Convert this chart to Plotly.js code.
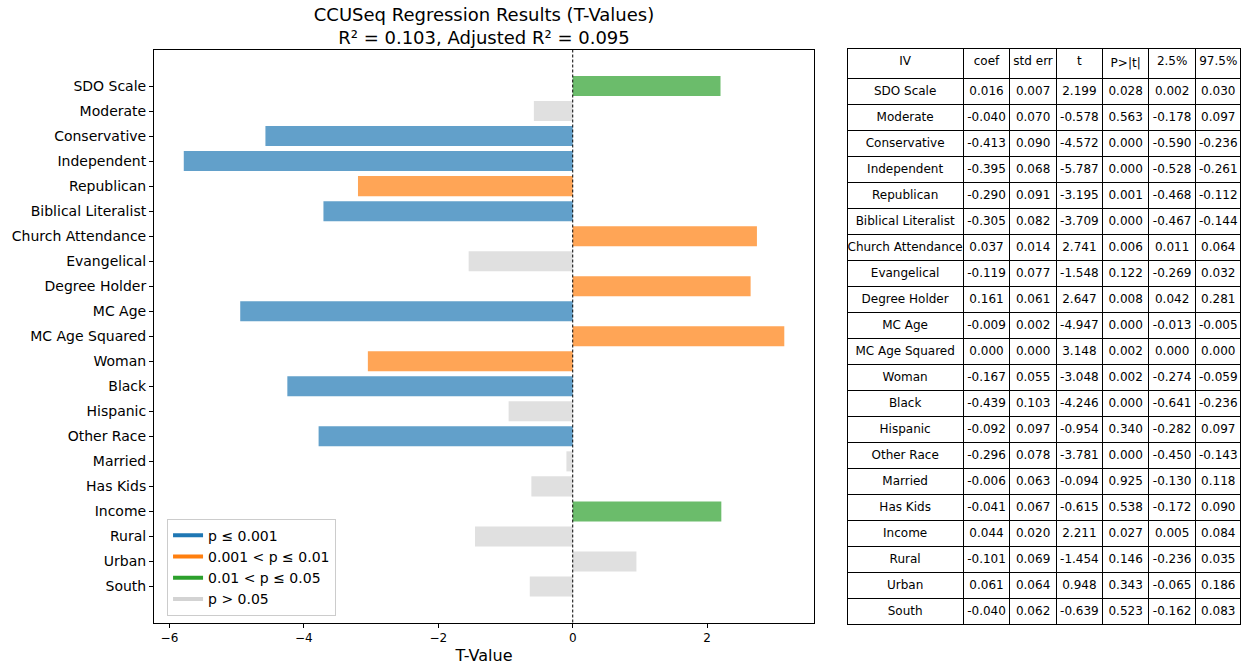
<!DOCTYPE html>
<html>
<head>
<meta charset="utf-8">
<script src="https://cdn.plot.ly/plotly-3.0.1.min.js"></script>
<style>html,body{margin:0;padding:0;background:#fff;}#chart{width:1245px;height:665px;}</style>
</head>
<body>
<div id="chart"></div>
<script>
// ---- data ----
const variables = ["SDO Scale","Moderate","Conservative","Independent","Republican","Biblical Literalist","Church Attendance","Evangelical","Degree Holder","MC Age","MC Age Squared","Woman","Black","Hispanic","Other Race","Married","Has Kids","Income","Rural","Urban","South"];
const coef   = [0.016,-0.040,-0.413,-0.395,-0.290,-0.305,0.037,-0.119,0.161,-0.009,0.000,-0.167,-0.439,-0.092,-0.296,-0.006,-0.041,0.044,-0.101,0.061,-0.040];
const stdErr = [0.007,0.070,0.090,0.068,0.091,0.082,0.014,0.077,0.061,0.002,0.000,0.055,0.103,0.097,0.078,0.063,0.067,0.020,0.069,0.064,0.062];
const tVals  = [2.199,-0.578,-4.572,-5.787,-3.195,-3.709,2.741,-1.548,2.647,-4.947,3.148,-3.048,-4.246,-0.954,-3.781,-0.094,-0.615,2.211,-1.454,0.948,-0.639];
const pVals  = [0.028,0.563,0.000,0.000,0.001,0.000,0.006,0.122,0.008,0.000,0.002,0.002,0.000,0.340,0.000,0.925,0.538,0.027,0.146,0.343,0.523];
const ciLow  = [0.002,-0.178,-0.590,-0.528,-0.468,-0.467,0.011,-0.269,0.042,-0.013,0.000,-0.274,-0.641,-0.282,-0.450,-0.130,-0.172,0.005,-0.236,-0.065,-0.162];
const ciHigh = [0.030,0.097,-0.236,-0.261,-0.112,-0.144,0.064,0.032,0.281,-0.005,0.000,-0.059,-0.236,0.097,-0.143,0.118,0.090,0.084,0.035,0.186,0.083];
// significance group: 0 = p<=0.001, 1 = 0.001<p<=0.01, 2 = 0.01<p<=0.05, 3 = p>0.05
const sigGroup = [2,3,0,0,1,0,1,3,1,0,1,1,0,3,0,3,3,2,3,3,3];
const groupLabels = ["p ≤ 0.001","0.001 < p ≤ 0.01","0.01 < p ≤ 0.05","p > 0.05"];
const tableHeader = ["IV","coef","std err","t","P>|t|","2.5%","97.5%"];

// ---- styles ----
const fullColors = ["#1f77b4","#ff7f0e","#2ca02c","#d3d3d3"];
const barColors  = ["rgba(31,119,180,0.7)","rgba(255,127,14,0.7)","rgba(44,160,44,0.7)","rgba(211,211,211,0.7)"];
const FONT = "DejaVu Sans, sans-serif";
const nb = s => s.replace(/ /g, "\u00a0");
const ROW_H = 26;
const PLOT_H = 665 - 48 - 40;
const TABLE_X0 = 693/1087;

const traces = [];
traces.push({
  type: "bar",
  orientation: "h",
  x: tVals,
  y: variables,
  width: 0.8,
  marker: {color: sigGroup.map(g => barColors[g]), line: {width: 0}},
  showlegend: false,
  hoverinfo: "x+y"
});
groupLabels.forEach((lab, i) => {
  traces.push({
    type: "scatter", mode: "lines",
    x: [null], y: [null],
    name: lab,
    line: {color: fullColors[i], width: 4},
    showlegend: true
  });
});
const f3 = a => a.map(v => v.toFixed(3));
traces.push({
  type: "table",
  domain: {x: [TABLE_X0, 1.0], y: [0, 1]},
  columnwidth: [116.6, 46.7, 46.7, 46.2, 46.6, 46.7, 45.7],
  header: {
    values: tableHeader.map(nb),
    align: "center",
    height: 22,
    line: {color: "#000", width: 1},
    fill: {color: "#fff"},
    font: {family: FONT, size: 12, color: "#000"}
  },
  cells: {
    values: [variables.map(nb), f3(coef), f3(stdErr), f3(tVals), f3(pVals), f3(ciLow), f3(ciHigh)],
    align: "center",
    height: ROW_H,
    line: {color: "#000", width: 1},
    fill: {color: "#fff"},
    font: {family: FONT, size: 12, color: "#000"}
  }
});

const layout = {
  width: 1245, height: 665,
  margin: {l: 154, r: 4, t: 48, b: 40},
  paper_bgcolor: "#fff", plot_bgcolor: "#fff",
  font: {family: FONT, color: "#000", size: 13},
  title: {
    text: "CCUSeq Regression Results (T-Values)<br>R² = 0.103, Adjusted R² = 0.095",
    xref: "container", x: 484/1245, xanchor: "center",
    yref: "container", y: 1 - 21/665, yanchor: "top",
    font: {family: FONT, size: 18, color: "#000"}
  },
  xaxis: {
    domain: [0, 660/1087],
    range: [-6.23, 3.59],
    tickmode: "array", tickvals: [-6,-4,-2,0,2],
    ticks: "outside", ticklen: 4, tickcolor: "#000",
    showline: true, linecolor: "#000", linewidth: 1, mirror: true,
    showgrid: false, zeroline: false,
    tickfont: {family: FONT, size: 12, color: "#000"},
    title: {text: "T-Value", font: {family: FONT, size: 16, color: "#000"}, standoff: 6}
  },
  yaxis: {
    domain: [2.5/PLOT_H, 575/PLOT_H],
    type: "category",
    range: [21.44, -1.44],
    ticks: "outside", ticklen: 4, tickcolor: "#000",
    showline: true, linecolor: "#000", linewidth: 1, mirror: true,
    showgrid: false, zeroline: false,
    tickfont: {family: FONT, size: 14, color: "#000"}
  },
  shapes: [{
    type: "line", xref: "x", yref: "y domain",
    x0: 0, x1: 0, y0: 0, y1: 1,
    line: {color: "#000", width: 1, dash: "3px,2px"}
  }],
  legend: {
    x: 0.012, y: 0.016, xanchor: "left", yanchor: "bottom",
    bgcolor: "rgba(255,255,255,0.8)", bordercolor: "#ccc", borderwidth: 1,
    font: {family: FONT, size: 14, color: "#000"},
    tracegroupgap: 0
  },
  showlegend: true
};

Plotly.newPlot("chart", traces, layout, {displayModeBar: false, staticPlot: true});
</script>
</body>
</html>
